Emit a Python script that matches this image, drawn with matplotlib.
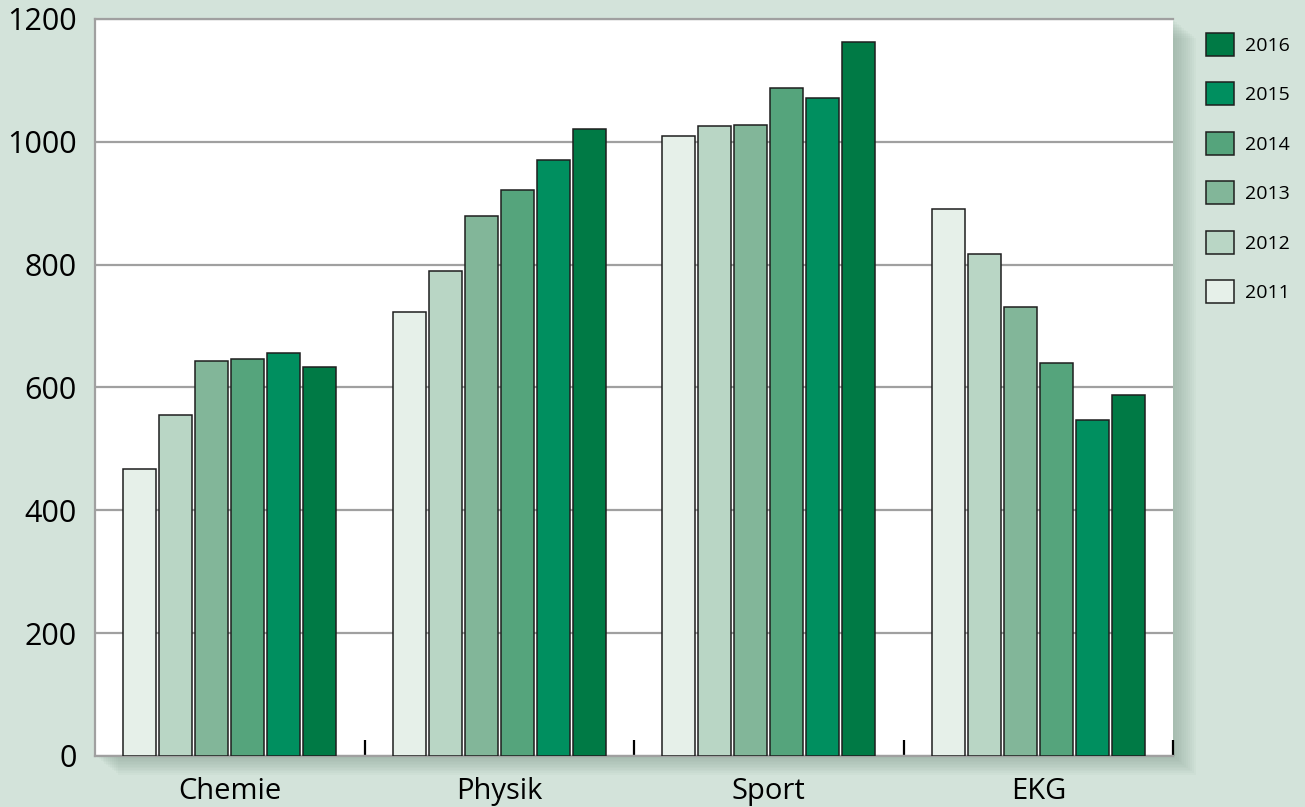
import matplotlib
matplotlib.use("Agg")
import matplotlib.pyplot as plt
from matplotlib.patches import Rectangle, Patch
import numpy as np

categories = ["Chemie", "Physik", "Sport", "EKG"]
years = ["2011", "2012", "2013", "2014", "2015", "2016"]
values = {
    "2011": [467, 723, 1010, 891],
    "2012": [555, 790, 1026, 818],
    "2013": [643, 879, 1028, 731],
    "2014": [647, 922, 1088, 640],
    "2015": [656, 971, 1072, 547],
    "2016": [634, 1021, 1163, 588],
}
colors = ["#e6f0e9", "#b9d6c5", "#82b699", "#55a47c", "#008f5f", "#007a45"]
yticks = [0, 200, 400, 600, 800, 1000, 1200]

plt.rcParams["font.family"] = ["Open Sans", "DejaVu Sans"]
bg = "#d3e3da"
fig = plt.figure(figsize=(13.05, 8.07), dpi=100, facecolor=bg)
ax = fig.add_axes([0.0728, 0.0632, 0.8261, 0.9133])
ax.set_facecolor("white")

# soft drop shadow right of and below the plot area
pos = ax.get_position()
for i in range(12):
    off = (i + 1) * 0.0012
    fig.patches.append(Rectangle((pos.x0 + off * 1.2, pos.y0 - off * 1.6),
                                 pos.width, pos.height,
                                 transform=fig.transFigure,
                                 facecolor="#7f9a8b", alpha=0.05,
                                 edgecolor="none", zorder=-5))

x = np.arange(len(categories))
n = len(years)
group = 0.8
w = group / n
handles = []
for i, (yr, col) in enumerate(zip(years, colors)):
    offs = -group / 2 + w * (i + 0.5)
    ax.bar(x + offs, values[yr], width=w * 0.92, color=col,
           edgecolor="#1e1e1e", linewidth=1.1, zorder=3)
    handles.append(Patch(facecolor=col, edgecolor="#1e1e1e", linewidth=1.1, label=yr))

ax.set_xlim(-0.5, len(categories) - 0.5)
ax.set_ylim(0, 1200)
ax.set_yticks(yticks)
ax.set_yticklabels([str(t) for t in yticks], fontsize=22)
ax.yaxis.grid(True, color="#a0a0a0", linewidth=1.6, zorder=0)
ax.set_axisbelow(True)
ax.tick_params(axis="y", length=0, pad=13)

ax.set_xticks(x)
ax.set_xticklabels(categories, fontsize=21)
ax.tick_params(axis="x", which="major", length=0, pad=15)
ax.set_xticks(np.arange(1, len(categories) + 1) - 0.5, minor=True)
ax.tick_params(axis="x", which="minor", direction="in", length=11.5,
               width=1.6, color="black")

for side in ["left", "top", "bottom"]:
    ax.spines[side].set_color("#a0a0a0")
    ax.spines[side].set_linewidth(1.6)
ax.spines["right"].set_visible(False)

leg = ax.legend(handles=handles[::-1], loc="upper left",
                bbox_to_anchor=(1.0235, 0.992), frameon=False, fontsize=14,
                handlelength=1.45, handleheight=1.45, labelspacing=1.36,
                handletextpad=0.55, borderaxespad=0)

fig.savefig("out.png", dpi=100, facecolor=bg)
